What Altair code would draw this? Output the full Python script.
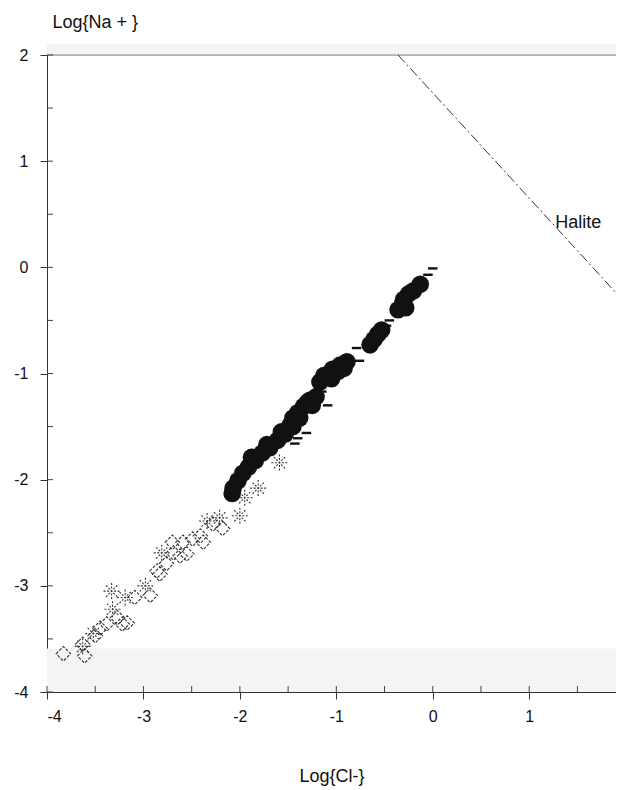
import altair as alt
import pandas as pd

# ---- data (log units) ----
circle_x = [-2.08, -2.07, -2.02, -1.97, -1.91, -1.84, -1.77, -1.69, -1.61, -1.53, -1.48, -1.45,
            -1.40, -1.34, -1.27, -1.21, -1.88, -1.72, -1.57, -1.45, -1.38, -1.30, -1.25,
            -1.17, -1.11, -1.04, -0.96, -0.89, -1.05, -0.98, -1.13, -0.92,
            -0.65, -0.61, -0.57, -0.53,
            -0.36, -0.31, -0.25, -0.20, -0.13, -0.30, -0.28]
circle_y = [-2.13, -2.08, -2.01, -1.94, -1.88, -1.82, -1.75, -1.70, -1.63, -1.57, -1.49, -1.42,
            -1.37, -1.31, -1.25, -1.22, -1.79, -1.67, -1.55, -1.50, -1.42, -1.27, -1.30,
            -1.08, -1.03, -0.96, -0.92, -0.89, -1.05, -0.98, -1.02, -0.95,
            -0.73, -0.68, -0.63, -0.59,
            -0.40, -0.33, -0.25, -0.22, -0.16, -0.30, -0.38]

dash_x = [0.00, -0.05, -0.45, -0.48, -0.79, -0.76, -1.15, -1.20, -1.09, -1.31, -1.40, -1.43]
dash_y = [-0.01, -0.07, -0.50, -0.55, -0.76, -0.88, -1.17, -1.21, -1.30, -1.56, -1.61, -1.66]

star_x = [-1.59, -1.81, -1.95, -2.00, -2.21, -2.34, -2.81, -2.98, -3.19, -3.33, -3.32, -3.52, -3.63]
star_y = [-1.84, -2.08, -2.17, -2.34, -2.36, -2.39, -2.69, -3.00, -3.11, -3.05, -3.22, -3.45, -3.57]

diamond_x = [-3.83, -3.61, -3.63, -3.50, -3.45, -3.38, -3.22, -3.27, -3.17, -3.09, -2.93, -2.86,
             -2.83, -2.76, -2.69, -2.70, -2.59, -2.49, -2.38, -2.41, -2.62, -2.55, -2.18, -2.28]
diamond_y = [-3.64, -3.66, -3.55, -3.47, -3.40, -3.36, -3.36, -3.30, -3.35, -3.11, -3.09, -2.86,
             -2.89, -2.79, -2.69, -2.59, -2.59, -2.56, -2.59, -2.53, -2.72, -2.70, -2.46, -2.42]

halite_x = [-0.36, 1.90]
halite_y = [2.00, -0.24]
halite_label = "Halite"

x_major = [-4, -3, -2, -1, 0, 1]
x_minor = [-4, -3.5, -3, -2.5, -2, -1.5, -1, -0.5, 0, 0.5, 1, 1.5]
y_major = [-4, -3, -2, -1, 0, 1, 2]
y_minor = [-4, -3.5, -3, -2.5, -2, -1.5, -1, -0.5, 0, 0.5, 1, 1.5, 2]

X_DOMAIN = [-4, 1.9]
Y_DOMAIN = [-4, 2]

W, H = 569, 637
TICK_IN = 6
FONT = "Liberation Sans"
xs = alt.Scale(domain=X_DOMAIN, nice=False, zero=False)
ys = alt.Scale(domain=Y_DOMAIN, nice=False, zero=False)

circles = pd.DataFrame({"x": circle_x, "y": circle_y})
dashes = pd.DataFrame({"x": dash_x, "y": dash_y})
stars = pd.DataFrame({"x": star_x, "y": star_y})
diamonds = pd.DataFrame({"x": diamond_x, "y": diamond_y})
halite = pd.DataFrame({"x": halite_x, "y": halite_y})
label = pd.DataFrame({"x": [1.27], "y": [0.42], "t": [halite_label]})
bands = pd.DataFrame({"x": [-4, -4], "x2": [1.9, 1.9], "y": [-4, 2.0], "y2": [-3.59, 2.1]})
top_line = pd.DataFrame({"y": [Y_DOMAIN[1]]})
xin = pd.DataFrame({"v": x_minor})
yin = pd.DataFrame({"v": y_minor})

LBL = "'' + datum.value"

axis_x_main = alt.Axis(orient="bottom", values=x_major, tickSize=7, labelExpr=LBL, labelFont=FONT,
                       labelFontSize=16, labelColor="#111", labelPadding=9, domainColor="#333",
                       tickColor="#333", grid=False, title="Log{Cl-}", titleFont=FONT, titleFontSize=18,
                       titleFontWeight="normal", titleColor="#111", titleY=84, titleBaseline="middle")
axis_y_main = alt.Axis(orient="left", values=y_major, tickSize=7, labelExpr=LBL, labelFont=FONT,
                       labelFontSize=16, labelColor="#111", labelPadding=12, domainColor="#333",
                       tickColor="#333", grid=False, title="Log{Na + }", titleFont=FONT, titleFontSize=18,
                       titleFontWeight="normal", titleColor="#111", titleAngle=0, titleAlign="left",
                       titleX=5, titleY=-33, titleBaseline="middle")

band_layer = alt.Chart(bands).mark_rect(color="#f4f4f4").encode(
    x=alt.X("x:Q", scale=xs, axis=axis_x_main), x2="x2:Q",
    y=alt.Y("y:Q", scale=ys, axis=axis_y_main), y2="y2:Q")

top_layer = alt.Chart(top_line).mark_rule(color="#888", strokeWidth=1).encode(
    y=alt.Y("y:Q", scale=ys, axis=None))

xin_layer = alt.Chart(xin).mark_rule(color="#444", strokeWidth=1).encode(
    x=alt.X("v:Q", scale=xs, axis=None), y=alt.value(H), y2=alt.value(H - TICK_IN))
yin_layer = alt.Chart(yin).mark_rule(color="#444", strokeWidth=1).encode(
    y=alt.Y("v:Q", scale=ys, axis=None), x=alt.value(0), x2=alt.value(TICK_IN))

halite_layer = alt.Chart(halite).mark_line(color="#333", strokeWidth=1, strokeDash=[10, 3, 2, 3]).encode(
    x=alt.X("x:Q", scale=xs, axis=None), y=alt.Y("y:Q", scale=ys, axis=None))

label_layer = alt.Chart(label).mark_text(align="left", baseline="middle", font=FONT, fontSize=18,
                                         color="#111").encode(
    x=alt.X("x:Q", scale=xs, axis=None), y=alt.Y("y:Q", scale=ys, axis=None), text="t:N")

circle_layer = alt.Chart(circles).mark_point(shape="circle", filled=True, size=310, color="#111",
                                             opacity=1).encode(
    x=alt.X("x:Q", scale=xs, axis=None), y=alt.Y("y:Q", scale=ys, axis=None))

dash_layer = alt.Chart(dashes).mark_point(shape="M-1,0L1,0", filled=False, size=90, strokeWidth=2.4,
                                          color="#111", opacity=1).encode(
    x=alt.X("x:Q", scale=xs, axis=None), y=alt.Y("y:Q", scale=ys, axis=None))

star_layer = alt.Chart(stars).mark_point(
    shape="M-1,0L1,0M0,-1L0,1M-0.7,-0.7L0.7,0.7M-0.7,0.7L0.7,-0.7",
    filled=False, size=260, strokeWidth=1.1, color="#333", strokeDash=[2, 1.5], opacity=1).encode(
    x=alt.X("x:Q", scale=xs, axis=None), y=alt.Y("y:Q", scale=ys, axis=None))

diamond_layer = alt.Chart(diamonds).mark_point(shape="diamond", filled=False, size=210, strokeWidth=1.1,
                                               color="#333", strokeDash=[3, 1.5], opacity=1).encode(
    x=alt.X("x:Q", scale=xs, axis=None), y=alt.Y("y:Q", scale=ys, axis=None))

chart = alt.layer(band_layer, top_layer, xin_layer, yin_layer, halite_layer, label_layer,
                  diamond_layer, star_layer, circle_layer, dash_layer).resolve_axis(
    x="independent", y="independent"
).properties(
    width=W, height=H,
    autosize=alt.AutoSizeParams(type="none"),
    padding={"left": 39, "top": 47, "right": 0, "bottom": 98},
).configure_view(stroke=None).configure(background="white")

chart.save("out.html", embed_options={"renderer": "svg", "actions": False})
